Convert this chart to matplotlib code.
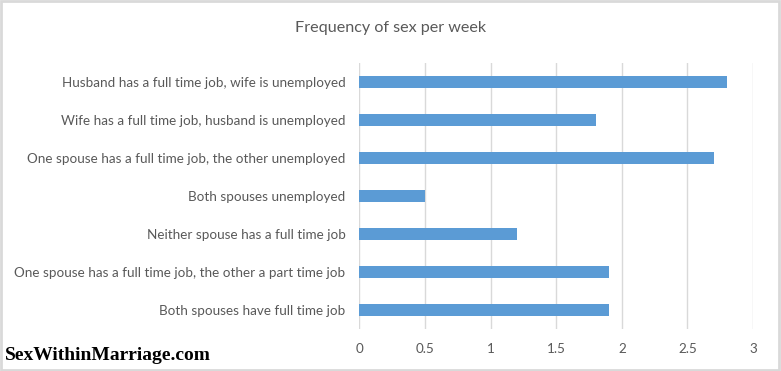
import matplotlib
matplotlib.use('Agg')
import matplotlib.pyplot as plt
from matplotlib.patches import Rectangle

# data (top to bottom as shown)
categories = [
    'Husband has a full time job, wife is unemployed',
    'Wife has a full time job, husband is unemployed',
    'One spouse has a full time job, the other unemployed',
    'Both spouses unemployed',
    'Neither spouse has a full time job',
    'One spouse has a full time job, the other a part time job',
    'Both spouses have full time job',
]
values = [2.8, 1.8, 2.7, 0.5, 1.2, 1.9, 1.9]
xticks = [0, 0.5, 1, 1.5, 2, 2.5, 3]
xticklabels = ['0', '0.5', '1', '1.5', '2', '2.5', '3']

text_color = '#595959'
plt.rcParams['font.family'] = ['Lato', 'DejaVu Sans']

fig = plt.figure(figsize=(7.81, 3.71), dpi=100)
ax = fig.add_axes([0.4603, 0.1132, 0.5039, 0.717])

pos = list(range(len(categories)))
ax.barh(pos, values, height=0.34, color='#5B9BD5', zorder=3)
ax.set_ylim(len(categories) - 0.5, -0.5)
ax.set_xlim(0, 3)
ax.set_yticks(pos)
ax.set_yticklabels(categories, fontsize=9.75, color=text_color)
ax.set_xticks(xticks)
ax.set_xticklabels(xticklabels, fontsize=9.75, color=text_color)
ax.tick_params(axis='both', length=0, pad=10)
ax.tick_params(axis='x', pad=10)
ax.grid(axis='x', color='#d9d9d9', linewidth=1, zorder=0)
for s in ax.spines.values():
    s.set_visible(False)

fig.text(0.5, 1 - 28 / 371, 'Frequency of sex per week', ha='center', va='center',
         fontsize=11.6, color=text_color)
fig.text(5 / 781, 1 - 356 / 371, 'SexWithinMarriage.com', ha='left', va='center',
         fontsize=14, fontweight='bold', family='Liberation Serif', color='black')

# outer border
fig.patches.append(Rectangle((0.001, 0.002), 0.997, 0.996, transform=fig.transFigure,
                             fill=False, edgecolor='#d9d9d9', linewidth=2))

fig.savefig('out.png', dpi=100)
